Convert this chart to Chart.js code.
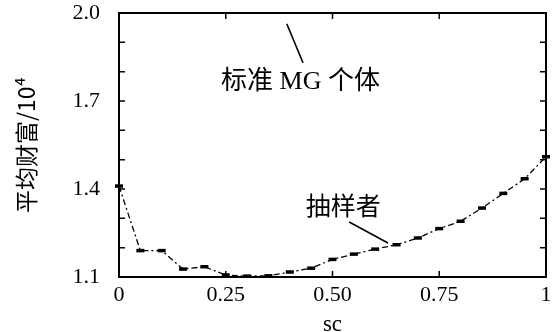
<!DOCTYPE html>
<html>
<head>
<meta charset="utf-8">
<script src="https://cdn.jsdelivr.net/npm/chart.js@4/dist/chart.umd.min.js"></script>
<style>
  html, body { margin: 0; padding: 0; background: #fff; }
</style>
</head>
<body>
<canvas id="grafica" width="557" height="332"></canvas>
<script>
// valores
const sc = [0, 0.05, 0.10, 0.15, 0.20, 0.25, 0.30, 0.35, 0.40, 0.45, 0.50,
            0.55, 0.60, 0.65, 0.70, 0.75, 0.80, 0.85, 0.90, 0.95, 1.00];
const muestreadores = [1.41, 1.19, 1.19, 1.127, 1.135, 1.107, 1.103, 1.104, 1.117, 1.13, 1.16,
                       1.178, 1.195, 1.21, 1.233, 1.265, 1.29, 1.335, 1.385, 1.435, 1.51];
const mgEstandar = [2.0, 2.0, 2.0, 2.0, 2.0, 2.0, 2.0, 2.0, 2.0, 2.0, 2.0,
                    2.0, 2.0, 2.0, 2.0, 2.0, 2.0, 2.0, 2.0, 2.0, 2.0];
const etiquetasY = ['1.1', '1.4', '1.7', '2.0'];
const etiquetasX = ['0', '0.25', '0.50', '0.75', '1'];

const nombres = ['标准 MG 个体', '抽样者'];
// notas: texto y la linea que apunta a la curva (en unidades de datos)
const notas = [
  { texto: nombres[0], x: 0.425, y: 1.765, de: [0.393, 1.963], a: [0.431, 1.83] },
  { texto: nombres[1], x: 0.525, y: 1.335, de: [0.539, 1.2875], a: [0.630, 1.216] }
];

const serif = "'Liberation Serif', 'Noto Sans CJK SC', serif";

const marcoYNotas = {
  id: 'marcoYNotas',
  afterDatasetsDraw(chart) {
    const ctx = chart.ctx;
    const a = chart.chartArea;
    const xs = chart.scales.x, ys = chart.scales.y;
    ctx.save();
    ctx.strokeStyle = '#000';
    ctx.lineWidth = 2;
    ctx.strokeRect(a.left, a.top, a.right - a.left, a.bottom - a.top);
    // ticks hacia dentro
    ctx.lineWidth = 1.5;
    ys.ticks.forEach(t => {
      const p = ys.getPixelForValue(t.value);
      ctx.beginPath();
      ctx.moveTo(a.left, p); ctx.lineTo(a.left + 6, p);
      ctx.moveTo(a.right, p); ctx.lineTo(a.right - 6, p);
      ctx.stroke();
    });
    xs.ticks.forEach(t => {
      const p = xs.getPixelForValue(t.value);
      ctx.beginPath();
      ctx.moveTo(p, a.bottom); ctx.lineTo(p, a.bottom - 6);
      ctx.moveTo(p, a.top); ctx.lineTo(p, a.top + 6);
      ctx.stroke();
    });
    // notas
    ctx.fillStyle = '#000';
    ctx.textAlign = 'center';
    ctx.textBaseline = 'middle';
    notas.forEach((n, i) => {
      ctx.font = (i === 0 ? 26 : 25) + "px 'Liberation Serif', 'Noto Sans CJK SC'";
      ctx.fillText(n.texto, xs.getPixelForValue(n.x), ys.getPixelForValue(n.y));
      ctx.lineWidth = 1.5;
      ctx.beginPath();
      ctx.moveTo(xs.getPixelForValue(n.de[0]), ys.getPixelForValue(n.de[1]));
      ctx.lineTo(xs.getPixelForValue(n.a[0]), ys.getPixelForValue(n.a[1]));
      ctx.stroke();
    });
    ctx.restore();
  }
};

const ctx = document.getElementById('grafica').getContext('2d');
const grafica = new Chart(ctx, {
  type: 'line',
  data: {
    datasets: [{
      label: nombres[0],
      data: sc.map((x, i) => ({ x: x, y: mgEstandar[i] })),
      borderColor: '#000',
      borderWidth: 2,
      pointRadius: 0,
      clip: false
    }, {
      label: nombres[1],
      data: sc.map((x, i) => ({ x: x, y: muestreadores[i] })),
      borderColor: '#000',
      backgroundColor: '#000',
      borderWidth: 1.3,
      borderDash: [6, 3, 2, 3],
      pointStyle: 'line',
      pointRadius: 4,
      pointBorderWidth: 3.5,
      pointBorderColor: '#000',
      tension: 0,
      clip: false
    }]
  },
  options: {
    responsive: false,
    animation: false,
    devicePixelRatio: 1,
    layout: { padding: { left: 0, right: 11, top: 13, bottom: 0 } },
    plugins: { legend: { display: false }, tooltip: { enabled: false } },
    scales: {
      x: {
        type: 'linear',
        min: 0, max: 1,
        afterFit: s => { s.height = 55; s.paddingLeft = 0; s.paddingRight = 0; },
        grid: { display: false, drawTicks: false },
        border: { display: false },
        ticks: {
          stepSize: 0.25,
          autoSkip: false,
          padding: 5,
          color: '#000',
          font: { family: serif, size: 22 },
          maxRotation: 0,
          callback: (v, i) => etiquetasX[i]
        },
        title: {
          display: true, text: 'sc', color: '#000',
          font: { family: serif, size: 23 },
          padding: { top: 0, bottom: -7 }
        }
      },
      y: {
        min: 1.1, max: 2.0,
        afterFit: s => { s.width = 119; s.paddingTop = 0; s.paddingBottom = 0; },
        grid: { display: false, drawTicks: false },
        border: { display: false },
        ticks: {
          stepSize: 0.1,
          autoSkip: false,
          padding: 19,
          color: '#000',
          font: { family: serif, size: 22 },
          callback: v => {
            const k = Math.round(v * 10);
            return k % 3 === 2 ? etiquetasY[(k - 11) / 3] : '';
          }
        },
        title: {
          display: true, text: '平均财富/10⁴', color: '#000',
          font: { family: "'Noto Sans CJK SC', 'Liberation Serif'", size: 23 },
          padding: { top: 12, bottom: 0 }
        }
      }
    }
  },
  plugins: [marcoYNotas]
});
</script>
</body>
</html>
